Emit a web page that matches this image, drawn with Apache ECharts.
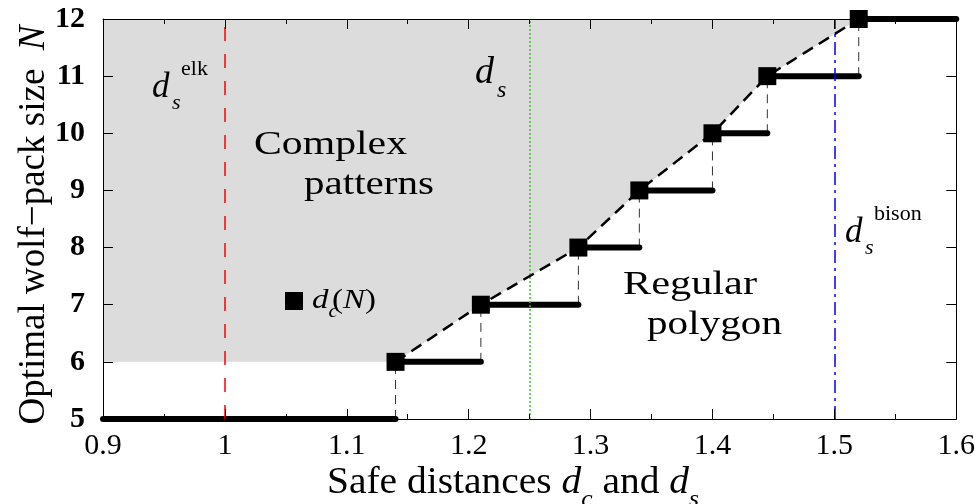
<!DOCTYPE html>
<html><head><meta charset="utf-8">
<script src="https://cdn.jsdelivr.net/npm/echarts@6/dist/echarts.min.js"></script>
<style>html,body{margin:0;padding:0;background:#fff}#c{width:978px;height:504px}</style>
</head><body><div id="c"></div>
<script>
// ---- data ----
const packSize = [6, 7, 8, 9, 10, 11, 12];              // N at each d_c marker
const dcValues = [1.14, 1.21, 1.29, 1.34, 1.40, 1.445, 1.52]; // d_c(N)
const stepN = [5, 6, 7, 8, 9, 10, 11, 12];
const stepStart = [0.9, 1.14, 1.21, 1.29, 1.34, 1.40, 1.445, 1.52];
const stepEnd = [1.14, 1.21, 1.29, 1.34, 1.40, 1.445, 1.52, 1.6];
const refLines = [1.0, 1.25, 1.5]; // d_s^elk, d_s, d_s^bison
const xTicks = [0.9, 1.0, 1.1, 1.2, 1.3, 1.4, 1.5, 1.6];
const yTicks = [5, 6, 7, 8, 9, 10, 11, 12];

const FONT = '"Liberation Serif", "Times New Roman", serif';
const ctx = document.createElement('canvas').getContext('2d');
function layout(x, base, parts, opt) {
  opt = opt || {};
  let cx = 0;
  const children = parts.map(p => {
    const font = (p.i ? 'italic ' : '') + (p.b ? 'bold ' : '') + p.s + 'px ' + FONT;
    ctx.font = font;
    const px = p.ox !== undefined ? p.ox : cx;
    cx = px + ctx.measureText(p.t).width;
    return {type: 'text', x: px, y: (p.dy || 0) - 0.34 * p.s, silent: true, z: 100, zlevel: 0,
      style: {text: p.t, font: font, fill: '#000', align: 'left', verticalAlign: 'middle',
              textAlign: 'left', textVerticalAlign: 'middle'}};
  });
  let sx = opt.sx || 1;
  if (opt.width) sx = opt.width / cx;
  return {type: 'group', x: x, y: base, scaleX: sx, z: 100, children: children};
}

const chart = echarts.init(document.getElementById('c'), null, {renderer: 'canvas'});

const xMin = xTicks[0], xMax = xTicks[xTicks.length - 1];
const yMin = yTicks[0], yMax = yTicks[yTicks.length - 1];

function xAxisDef(pos, show) {
  return {type: 'value', min: xMin, max: xMax, interval: 0.1, position: pos, z: 10,
    axisLine: {show: true, onZero: false, lineStyle: {color: '#000', width: 1}},
    axisTick: {show: true, inside: true, length: 10, lineStyle: {color: '#000', width: 1}},
    minorTick: {show: true, splitNumber: 2, length: 5, lineStyle: {color: '#000', width: 1}},
    splitLine: {show: false}, minorSplitLine: {show: false},
    axisLabel: {show: show, fontFamily: FONT, fontSize: 30, color: '#000', margin: 12,
      formatter: v => String(Math.round(v * 10) / 10)}};
}
function yAxisDef(pos, show) {
  return {type: 'value', min: yMin, max: yMax, interval: 1, position: pos, z: 10,
    axisLine: {show: true, onZero: false, lineStyle: {color: '#000', width: 1}},
    axisTick: {show: true, inside: true, length: 10, lineStyle: {color: '#000', width: 1}},
    splitLine: {show: false},
    axisLabel: {show: show, fontFamily: FONT, fontSize: 30, fontWeight: 'bold', color: '#000', margin: 18}};
}

const markerPts = dcValues.map((x, i) => [x, packSize[i]]);

const option = {
  animation: false,
  grid: {left: 103, right: 21, top: 19, bottom: 85, containLabel: false},
  xAxis: [xAxisDef('bottom', true), xAxisDef('top', false)],
  yAxis: [yAxisDef('left', true), yAxisDef('right', false)],
  series: [
    { // grey region "Complex patterns"
      type: 'custom', silent: true, z: 1, xAxisIndex: 0, yAxisIndex: 0,
      data: [[xMin, yMax]],
      renderItem: function (params, api) {
        const pts = [api.coord([xMin, yMax]), api.coord([xMin, packSize[0]])];
        markerPts.forEach(p => pts.push(api.coord(p)));
        return {type: 'polygon', shape: {points: pts}, style: {fill: '#dcdcdc', stroke: null}};
      }
    },
    { // reference lines
      type: 'line', z: 2, data: [], silent: true,
      markLine: {symbol: 'none', silent: true, animation: false, label: {show: false},
        data: [
          {xAxis: refLines[0], lineStyle: {color: '#ff0000', width: 1.5, type: [14, 13]}},
          {xAxis: refLines[1], lineStyle: {color: '#44bb33', width: 1.5, type: [2, 2]}},
          {xAxis: refLines[2], lineStyle: {color: '#0000ff', width: 1.5, type: [13, 5, 3, 5]}}
        ]}
    },
    { // vertical thin connectors
      type: 'custom', silent: true, z: 3,
      data: dcValues.map((x, i) => [x, packSize[i] - 1, packSize[i]]),
      encode: {x: 0, y: [1, 2]},
      renderItem: function (params, api) {
        const a = api.coord([api.value(0), api.value(1)]);
        const b = api.coord([api.value(0), api.value(2)]);
        return {type: 'line', shape: {x1: a[0], y1: a[1], x2: b[0], y2: b[1]},
          style: {stroke: '#333', lineWidth: 1, lineDash: [9, 6]}};
      }
    },
    { // thick step segments
      type: 'custom', silent: true, z: 4,
      data: stepN.map((n, i) => [stepStart[i], stepEnd[i], n]),
      encode: {x: [0, 1], y: 2},
      clip: false,
      renderItem: function (params, api) {
        const a = api.coord([api.value(0), api.value(2)]);
        const b = api.coord([api.value(1), api.value(2)]);
        return {type: 'line', shape: {x1: a[0], y1: a[1], x2: b[0], y2: b[1]},
          style: {stroke: '#000', lineWidth: 6, lineCap: 'round'}};
      }
    },
    { // d_c(N) markers with dashed boundary
      type: 'line', z: 5, data: markerPts, silent: true,
      symbol: 'rect', symbolSize: 18, itemStyle: {color: '#000'},
      lineStyle: {color: '#000', width: 2.5, type: [12, 7]}
    }
  ],
  graphic: [
    // axis titles
    {type: 'text', x: 34, y: 225, rotation: Math.PI / 2, silent: true, z: 100,
     style: {text: 'Optimal wolf\u2212pack size  {i|N}', font: '37px ' + FONT, fill: '#000',
             align: 'center', verticalAlign: 'middle', textAlign: 'center', textVerticalAlign: 'middle',
             rich: {i: {fontStyle: 'italic', fontSize: 37, fontFamily: FONT, fill: '#000', color: '#000'}}}},
    layout(327, 496, [
      {t: 'Safe distances ', s: 37}, {t: 'd', s: 37, i: true}, {t: 'c', s: 24, i: true, dy: 12},
      {t: ' and ', s: 37}, {t: 'd', s: 37, i: true}, {t: 's', s: 24, i: true, dy: 12}
    ], {width: 372}),
    // annotations
    layout(152, 100, [{t: 'd', s: 35, i: true}, {t: 's', s: 22, i: true, dy: 11, ox: 20}, {t: 'elk', s: 22, dy: -23, ox: 29}]),
    layout(475, 86, [{t: 'd', s: 38, i: true}, {t: 's', s: 24, i: true, dy: 13, ox: 22}]),
    layout(845, 245, [{t: 'd', s: 35, i: true}, {t: 's', s: 22, i: true, dy: 11, ox: 20}, {t: 'bison', s: 22, dy: -23, ox: 29}]),
    layout(254, 157, [{t: 'Complex', s: 34}], {width: 153}),
    layout(304, 197, [{t: 'patterns', s: 34}], {width: 130}),
    layout(623, 297, [{t: 'Regular', s: 34}], {width: 134}),
    layout(647, 337, [{t: 'polygon', s: 34}], {width: 135}),
    // legend for d_c(N)
    {type: 'rect', shape: {x: 285, y: 292, width: 18, height: 18}, style: {fill: '#000'}, silent: true, z: 100},
    layout(312, 310, [{t: 'd', s: 28, i: true}, {t: 'c', s: 18, i: true, dy: 8}, {t: '(', s: 28, ox: 17}, {t: 'N', s: 28, i: true}, {t: ')', s: 28}], {width: 64})
  ]
};
chart.setOption(option);
</script>
</body></html>
